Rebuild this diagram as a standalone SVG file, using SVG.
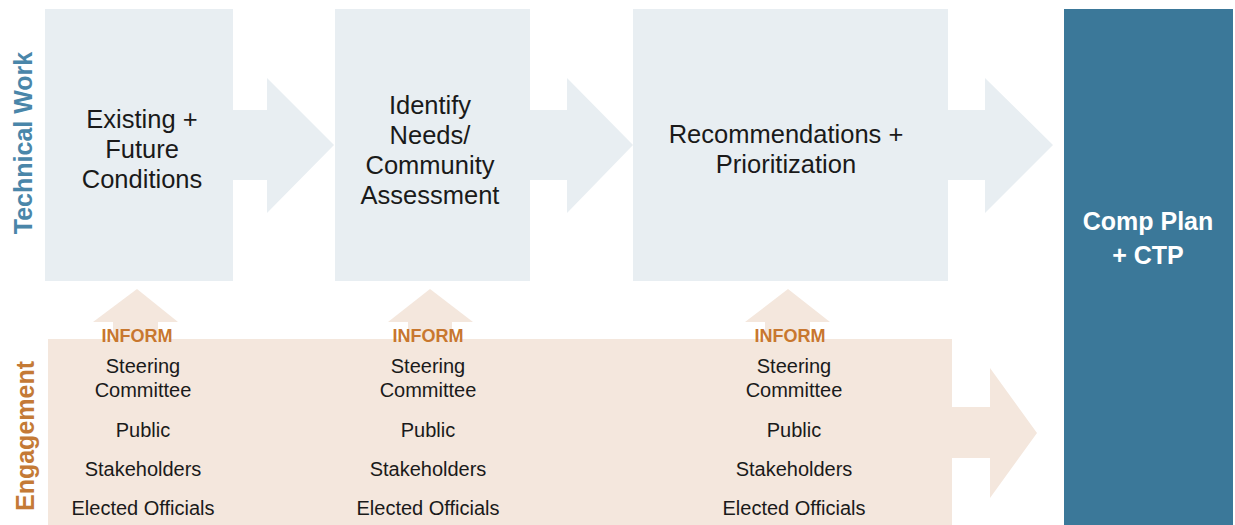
<svg xmlns="http://www.w3.org/2000/svg" width="1235" height="525" viewBox="0 0 1235 525">
<style>
.box{fill:#E8EEF2}
.peach{fill:#F4E7DD}
.t{font-family:"Liberation Sans",Arial,Helvetica,sans-serif;font-size:25.5px;fill:#1a1a1a;text-anchor:middle}
.e{font-family:"Liberation Sans",Arial,Helvetica,sans-serif;font-size:20px;fill:#1a1a1a;text-anchor:middle}
.inf{font-family:"Liberation Sans",Arial,Helvetica,sans-serif;font-size:18px;font-weight:bold;fill:#C8772F;text-anchor:middle}
.lab{font-family:"Liberation Sans",Arial,Helvetica,sans-serif;font-size:25px;font-weight:bold;text-anchor:middle}
</style>
<rect width="1235" height="525" fill="#ffffff"/>

<g id="label-technical">
<text class="lab" fill="#4A86A9" transform="translate(32,143) rotate(-90)">Technical Work</text>
</g>
<g id="label-engagement">
<text class="lab" fill="#C47A36" transform="translate(34,436) rotate(-90)">Engagement</text>
</g>

<g id="engagement-band">
<rect class="peach" x="48" y="339" width="904" height="186"/>
</g>

<g id="connectors">
<polygon class="box" points="233,110 267,110 267,78 334,145 267,213 267,180 233,180"/>
<polygon class="box" points="530,110 567,110 567,78 633,145 567,213 567,180 530,180"/>
<polygon class="box" points="948,110 985,110 985,78 1053,145 985,213 985,180 948,180"/>
<polygon class="peach" points="952,407 990,407 990,368 1037,433 990,498 990,458 952,458"/>
<polygon class="peach" points="113,340 113,322 93,322 137,289 178,322 158,322 158,340"/>
<polygon class="peach" points="408,340 408,322 388,322 430,289 473,322 452,322 452,340"/>
<polygon class="peach" points="765,340 765,322 745,322 788,289 830,322 810,322 810,340"/>
</g>

<g id="node-existing">
<rect class="box" x="45" y="9" width="188" height="272"/>
<text class="t" x="142" y="128">Existing +</text>
<text class="t" x="142" y="158">Future</text>
<text class="t" x="142" y="188">Conditions</text>
</g>

<g id="node-identify">
<rect class="box" x="335" y="9" width="195" height="272"/>
<text class="t" x="430" y="114">Identify</text>
<text class="t" x="430" y="144">Needs/</text>
<text class="t" x="430" y="174">Community</text>
<text class="t" x="430" y="204">Assessment</text>
</g>

<g id="node-recommendations">
<rect class="box" x="633" y="9" width="315" height="272"/>
<text class="t" x="786" y="143">Recommendations +</text>
<text class="t" x="786" y="173">Prioritization</text>
</g>

<g id="node-compplan">
<rect x="1064" y="9" width="169" height="516" fill="#3B7899"/>
<text class="lab" fill="#ffffff" x="1148" y="230" font-size="27">Comp Plan</text>
<text class="lab" fill="#ffffff" x="1148" y="264" font-size="27">+ CTP</text>
</g>

<g id="engage-1">
<text class="inf" x="137" y="342">INFORM</text>
<text class="e" x="143" y="373">Steering</text>
<text class="e" x="143" y="397">Committee</text>
<text class="e" x="143" y="437">Public</text>
<text class="e" x="143" y="476">Stakeholders</text>
<text class="e" x="143" y="515">Elected Officials</text>
</g>

<g id="engage-2">
<text class="inf" x="428" y="342">INFORM</text>
<text class="e" x="428" y="373">Steering</text>
<text class="e" x="428" y="397">Committee</text>
<text class="e" x="428" y="437">Public</text>
<text class="e" x="428" y="476">Stakeholders</text>
<text class="e" x="428" y="515">Elected Officials</text>
</g>

<g id="engage-3">
<text class="inf" x="790" y="342" font-size="19">INFORM</text>
<text class="e" x="794" y="373">Steering</text>
<text class="e" x="794" y="397">Committee</text>
<text class="e" x="794" y="437">Public</text>
<text class="e" x="794" y="476">Stakeholders</text>
<text class="e" x="794" y="515">Elected Officials</text>
</g>
</svg>
